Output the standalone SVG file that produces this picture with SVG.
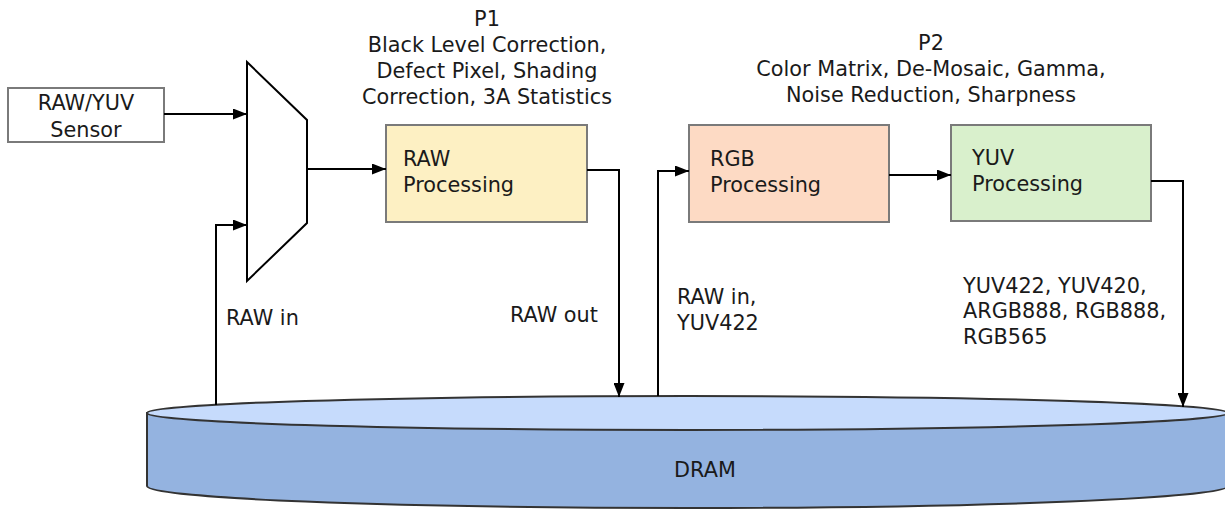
<svg xmlns="http://www.w3.org/2000/svg" width="1225" height="510" viewBox="0 0 1225 510">
<style>
  text { font-family: "DejaVu Sans", "Liberation Sans", sans-serif; font-size: 20.8px; fill: #1a1a1a; }
  .c { text-anchor: middle; }
  .box { stroke: #7a7a7a; stroke-width: 2; }
  .wire { fill: none; stroke: #000; stroke-width: 2; }
  .dram { stroke: #333; stroke-width: 2; }
</style>
<defs>
  <marker id="arr" viewBox="0 0 14 11" refX="14" refY="5.5" markerWidth="14" markerHeight="11" markerUnits="userSpaceOnUse" orient="auto">
    <path d="M0,0 L14,5.5 L0,11 Z" fill="#000"/>
  </marker>
</defs>
<rect width="1225" height="510" fill="#fff"/>

<g id="dram">
  <path class="dram" d="M147,413 L147,486 A540.5,22 0 0 0 1228,486 L1228,413 Z" fill="#94b3e0"/>
  <ellipse class="dram" cx="687.5" cy="413" rx="540.5" ry="17" fill="#c6dbfc"/>
  <text class="c" x="705" y="477">DRAM</text>
</g>

<g id="sensor">
  <rect class="box" x="8" y="88" width="156" height="54" fill="#fff"/>
  <text class="c" x="86" y="110">RAW/YUV</text>
  <text class="c" x="86" y="137">Sensor</text>
</g>

<g id="mux">
  <polygon points="247,62 307,120 307,223 247,281" fill="#fff" stroke="#000" stroke-width="2"/>
</g>

<g id="p1-label">
  <text class="c" x="487" y="26">P1</text>
  <text class="c" x="487" y="52">Black Level Correction,</text>
  <text class="c" x="487" y="78">Defect Pixel, Shading</text>
  <text class="c" x="487" y="104">Correction, 3A Statistics</text>
</g>

<g id="p2-label">
  <text class="c" x="931" y="50">P2</text>
  <text class="c" x="931" y="76">Color Matrix, De-Mosaic, Gamma,</text>
  <text class="c" x="931" y="102">Noise Reduction, Sharpness</text>
</g>

<g id="raw-proc">
  <rect class="box" x="386" y="125" width="201" height="97" fill="#fdf0c3"/>
  <text x="403" y="166">RAW</text>
  <text x="403" y="192">Processing</text>
</g>

<g id="rgb-proc">
  <rect class="box" x="689" y="125" width="200" height="97" fill="#fddac4"/>
  <text x="710" y="166">RGB</text>
  <text x="710" y="192">Processing</text>
</g>

<g id="yuv-proc">
  <rect class="box" x="951" y="125" width="200" height="96" fill="#d9f0cc"/>
  <text x="972" y="165">YUV</text>
  <text x="972" y="191">Processing</text>
</g>

<g id="connectors">
  <path class="wire" d="M164,114 L247,114" marker-end="url(#arr)"/>
  <path class="wire" d="M216,405 L216,225 L247,225" marker-end="url(#arr)"/>
  <path class="wire" d="M307,169 L386,169" marker-end="url(#arr)"/>
  <path class="wire" d="M587,170 L619,170 L619,397" marker-end="url(#arr)"/>
  <path class="wire" d="M658,396 L658,171 L689,171" marker-end="url(#arr)"/>
  <path class="wire" d="M889,175 L951,175" marker-end="url(#arr)"/>
  <path class="wire" d="M1151,181 L1183,181 L1183,407" marker-end="url(#arr)"/>
</g>

<g id="labels">
  <text x="226" y="325">RAW in</text>
  <text x="510" y="322">RAW out</text>
  <text x="677" y="304">RAW in,</text>
  <text x="677" y="330">YUV422</text>
  <text x="963" y="293">YUV422, YUV420,</text>
  <text x="963" y="318">ARGB888, RGB888,</text>
  <text x="963" y="344">RGB565</text>
</g>
</svg>
